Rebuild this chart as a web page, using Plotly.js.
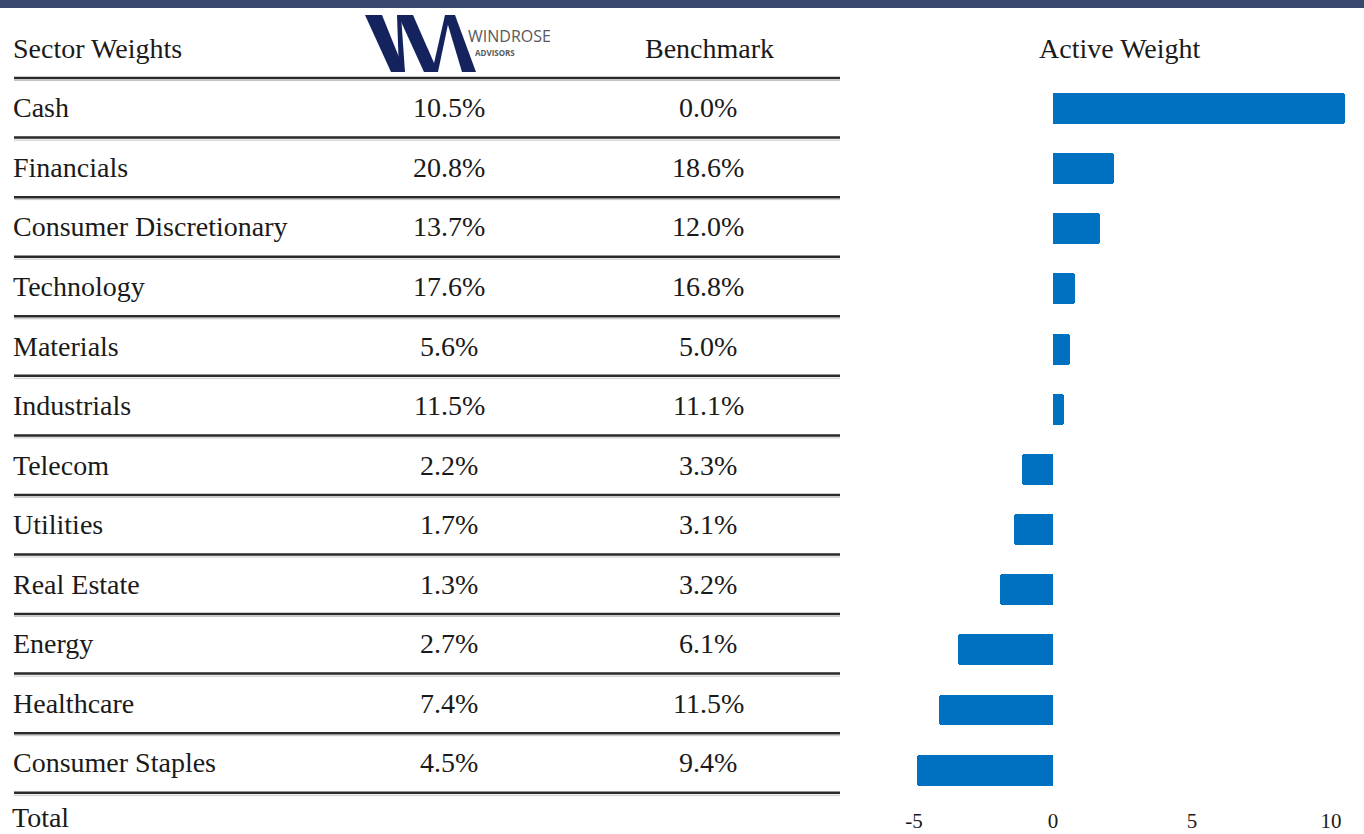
<!DOCTYPE html>
<html>
<head>
<meta charset="utf-8">
<script src="https://cdn.plot.ly/plotly-3.0.1.min.js"></script>
<style>html,body{margin:0;padding:0;background:#fff;}#chart{width:1364px;height:834px;}</style>
</head>
<body>
<div id="chart"></div>
<script>
// ---- data ----
const sectors = ["Cash","Financials","Consumer Discretionary","Technology","Materials","Industrials","Telecom","Utilities","Real Estate","Energy","Healthcare","Consumer Staples"];
const portfolio = [10.5,20.8,13.7,17.6,5.6,11.5,2.2,1.7,1.3,2.7,7.4,4.5];
const benchmark = [0.0,18.6,12.0,16.8,5.0,11.1,3.3,3.1,3.2,6.1,11.5,9.4];
const active = [10.5,2.2,1.7,0.8,0.6,0.4,-1.1,-1.4,-1.9,-3.4,-4.1,-4.9];
const headers = ["Sector Weights","Benchmark","Active Weight"];
const totalLabel = "Total";
const tickVals = [-5,0,5,10];
const brandName = "WINDROSE";
const brandSub = "ADVISORS";

// ---- helpers (pixel -> paper) ----
const W = 1364, H = 834;
const px = x => x / W;
const py = y => 1 - y / H;
function poly(pts){ return 'M ' + pts.map(p => px(p[0]).toFixed(5)+','+py(p[1]).toFixed(5)).join(' L ') + ' Z'; }

const serif = "Liberation Serif, Times New Roman, serif";
const tFont = {family: serif, size: 28, color: "#1a1a1a"};
const leftX = 11;

const annotations = [];
// headers
annotations.push({text: headers[0], x: px(leftX), xanchor: 'left', y: -1, xref: 'paper', yref: 'y2', showarrow: false, font: tFont});
annotations.push({text: headers[1], x: px(709), xanchor: 'center', y: -1, xref: 'paper', yref: 'y2', showarrow: false, font: tFont});
annotations.push({text: headers[2], x: px(1120), xanchor: 'center', y: -1, xref: 'paper', yref: 'y2', showarrow: false, font: tFont});
sectors.forEach((s, i) => {
  annotations.push({text: s, x: px(leftX), xanchor: 'left', y: i, xref: 'paper', yref: 'y2', showarrow: false, font: tFont});
  annotations.push({text: portfolio[i].toFixed(1) + '%', x: px(449), xanchor: 'center', y: i, xref: 'paper', yref: 'y2', showarrow: false, font: tFont});
  annotations.push({text: benchmark[i].toFixed(1) + '%', x: px(708), xanchor: 'center', y: i, xref: 'paper', yref: 'y2', showarrow: false, font: tFont});
});
annotations.push({text: totalLabel, x: px(leftX), xanchor: 'left', y: 0, yanchor: 'bottom', borderpad: 0, xref: 'paper', yref: 'paper', showarrow: false, font: tFont});
// logo text
annotations.push({text: brandName, x: px(467), xanchor: 'left', y: py(36), yanchor: 'middle', xref: 'paper', yref: 'paper', showarrow: false, borderpad: 0,
  font: {family: "Open Sans, sans-serif", size: 16, color: "#58595b"}});
annotations.push({text: '<b>' + brandSub + '</b>', x: px(474), xanchor: 'left', y: py(52), yanchor: 'middle', xref: 'paper', yref: 'paper', showarrow: false, borderpad: 0,
  font: {family: "Open Sans, sans-serif", size: 8, color: "#58595b"}});

const shapes = [];
// top band
shapes.push({type: 'rect', xref: 'paper', yref: 'paper', x0: 0, x1: 1, y0: py(8), y1: 1, fillcolor: '#3a4870', line: {width: 0}, layer: 'above'});
// table rules
for (let k = 0; k <= sectors.length; k++) {
  shapes.push({type: 'line', xref: 'paper', yref: 'y2', x0: px(14), x1: px(840), y0: k - 0.5, y1: k - 0.5, line: {color: '#2a2a2a', width: 2.5}});
  shapes.push({type: 'line', xref: 'paper', yref: 'y2', ysizemode: 'pixel', yanchor: k - 0.5, x0: px(14), x1: px(840), y0: -2.5, y1: -2.5, line: {color: '#c4c4c4', width: 1}});
}
// logo marks
const navy = '#14235e';
const logoPolys = [
  [[365,15],[382,15],[405,72],[391,72]],   // W thick 1
  [[399,72],[405,72],[401,15],[397,15]],   // W thin 1
  [[398,15],[413,15],[438,72],[424,72]],   // W thick 2
  [[432,72],[438,72],[450,15],[445,15]],   // A thin leg
  [[445,15],[455,15],[476,72],[462,72]]    // A thick leg
];
logoPolys.forEach(p => shapes.push({type: 'path', xref: 'paper', yref: 'paper', path: poly(p), fillcolor: navy, line: {width: 0}}));

// axis geometry
const plotBottom = 803;
const barC0 = 108.5, barStep = 60.15;
const rowC0 = 107.8, rowStep = 59.56;
const zeroPx = 1053, unitPx = 27.8;

const traces = [
  {type: 'bar', orientation: 'h', x: active, y: sectors, width: 0.515,
   marker: {color: '#0070c0', cornerradius: 3}, hovertemplate: '%{y}: %{x:.1f}<extra></extra>'},
  {type: 'scatter', mode: 'markers', x: [0], y: [0], yaxis: 'y2', marker: {opacity: 0}, hoverinfo: 'skip', showlegend: false}
];

const layout = {
  width: W, height: H,
  margin: {l: 0, r: 0, t: 0, b: 0},
  paper_bgcolor: '#fff', plot_bgcolor: '#fff',
  showlegend: false,
  bargap: 0,
  xaxis: {range: [(0 - zeroPx) / unitPx, (W - zeroPx) / unitPx], domain: [0, 1], tickvals: tickVals, ticktext: tickVals.map(String),
          showgrid: false, zeroline: false, showline: false, ticks: '', ticklabelstandoff: 3,
          tickfont: {family: serif, size: 21, color: '#1a1a1a'}, fixedrange: true},
  yaxis: {type: 'category', categoryarray: sectors, domain: [(H - plotBottom) / H, 1],
          range: [(plotBottom - barC0) / barStep, (0 - barC0) / barStep],
          showticklabels: false, showgrid: false, zeroline: false, showline: false, ticks: '', fixedrange: true},
  yaxis2: {overlaying: 'y', range: [(plotBottom - rowC0) / rowStep, (0 - rowC0) / rowStep],
          showticklabels: false, showgrid: false, zeroline: false, showline: false, ticks: '', fixedrange: true},
  annotations: annotations,
  shapes: shapes
};

Plotly.newPlot('chart', traces, layout, {displayModeBar: false});
</script>
</body>
</html>
